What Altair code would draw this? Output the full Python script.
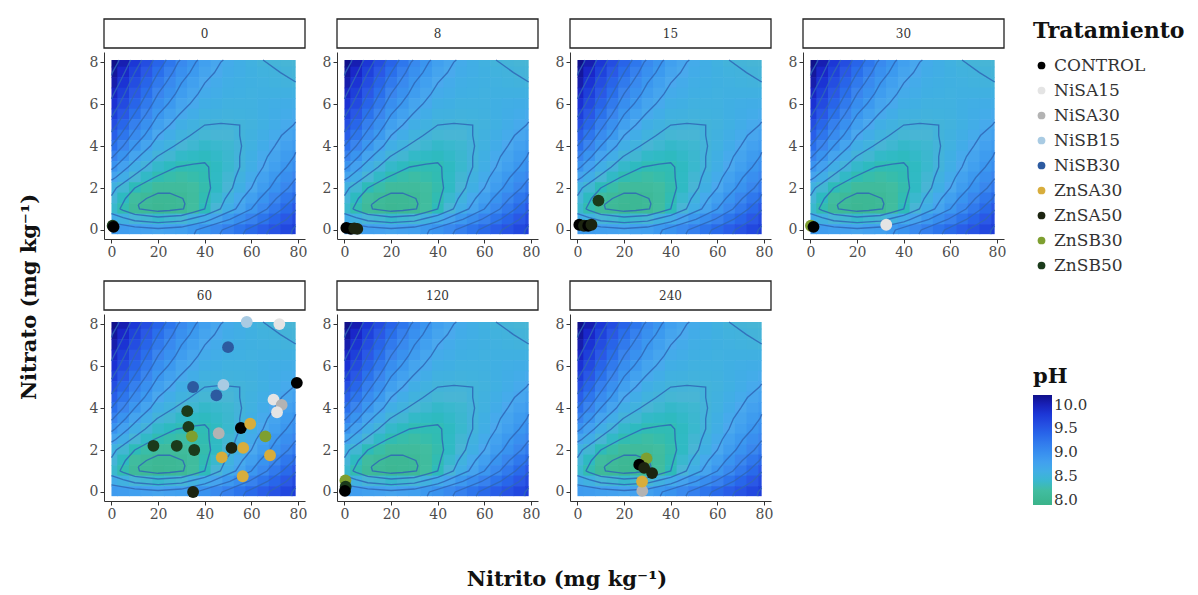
import altair as alt
import pandas as pd

FONT = "DejaVu Serif"

days = [0, 8, 15, 30, 60, 120, 240]
treatments = ["CONTROL", "NiSA15", "NiSA30", "NiSB15", "NiSB30",
              "ZnSA30", "ZnSA50", "ZnSB30", "ZnSB50"]
treatment_colors = ["#000000", "#e4e4e4", "#b3b3b3", "#a9cbe3", "#2c5aa0",
                    "#d8ad3c", "#1c2410", "#7e9f30", "#1b3b1b"]

# fitted pH surface (rows: nitrato from 8 down to 0)
grid_nitrito = [0, 5, 10, 15, 20, 25, 30, 35, 40, 45, 50, 55, 60, 65, 70, 75, 80]
grid_nitrato = [8.0, 7.5, 7.0, 6.5, 6.0, 5.5, 5.0, 4.5, 4.0, 3.5, 3.0, 2.5, 2.0, 1.5, 1.0, 0.5, 0.0]
grid_ph = [
    [10.20, 10.03, 9.80, 9.60, 9.40, 9.23, 9.05, 8.93, 8.80, 8.73, 8.65, 8.60, 8.55, 8.50, 8.48, 8.46, 8.45],
    [10.12, 9.93, 9.70, 9.50, 9.30, 9.14, 8.98, 8.87, 8.75, 8.69, 8.63, 8.60, 8.56, 8.53, 8.51, 8.49, 8.48],
    [10.05, 9.83, 9.60, 9.40, 9.20, 9.05, 8.90, 8.80, 8.70, 8.65, 8.60, 8.58, 8.56, 8.55, 8.53, 8.51, 8.50],
    [9.95, 9.73, 9.50, 9.30, 9.10, 8.97, 8.83, 8.74, 8.65, 8.62, 8.58, 8.57, 8.55, 8.56, 8.56, 8.56, 8.57],
    [9.85, 9.63, 9.40, 9.20, 9.00, 8.88, 8.75, 8.68, 8.60, 8.58, 8.55, 8.55, 8.55, 8.58, 8.60, 8.61, 8.62],
    [9.73, 9.51, 9.28, 9.09, 8.90, 8.79, 8.68, 8.62, 8.55, 8.54, 8.52, 8.53, 8.54, 8.58, 8.61, 8.64, 8.67],
    [9.60, 9.38, 9.15, 8.98, 8.80, 8.70, 8.60, 8.55, 8.50, 8.49, 8.48, 8.50, 8.52, 8.57, 8.62, 8.67, 8.72],
    [9.45, 9.24, 9.03, 8.87, 8.70, 8.62, 8.53, 8.49, 8.44, 8.45, 8.45, 8.50, 8.54, 8.60, 8.66, 8.73, 8.79],
    [9.30, 9.10, 8.90, 8.75, 8.60, 8.53, 8.45, 8.42, 8.38, 8.40, 8.42, 8.49, 8.55, 8.63, 8.70, 8.78, 8.85],
    [9.13, 8.94, 8.75, 8.62, 8.49, 8.43, 8.37, 8.35, 8.33, 8.37, 8.41, 8.50, 8.58, 8.67, 8.75, 8.84, 8.93],
    [8.95, 8.78, 8.60, 8.49, 8.38, 8.33, 8.28, 8.28, 8.28, 8.34, 8.40, 8.50, 8.60, 8.70, 8.80, 8.90, 9.00],
    [8.75, 8.61, 8.45, 8.36, 8.27, 8.24, 8.22, 8.24, 8.27, 8.35, 8.43, 8.54, 8.65, 8.77, 8.88, 8.99, 9.10],
    [8.55, 8.43, 8.30, 8.23, 8.15, 8.15, 8.15, 8.20, 8.25, 8.35, 8.45, 8.58, 8.70, 8.83, 8.95, 9.08, 9.20],
    [8.48, 8.33, 8.18, 8.10, 8.05, 8.05, 8.09, 8.17, 8.27, 8.40, 8.53, 8.67, 8.80, 8.94, 9.08, 9.22, 9.35],
    [8.40, 8.26, 8.12, 8.07, 8.02, 8.05, 8.08, 8.19, 8.30, 8.45, 8.60, 8.75, 8.90, 9.05, 9.20, 9.35, 9.50],
    [8.63, 8.55, 8.46, 8.43, 8.39, 8.42, 8.44, 8.54, 8.63, 8.75, 8.88, 9.00, 9.13, 9.25, 9.38, 9.50, 9.63],
    [8.85, 8.83, 8.80, 8.78, 8.75, 8.78, 8.80, 8.88, 8.95, 9.05, 9.15, 9.25, 9.35, 9.45, 9.55, 9.65, 9.75],
]
grid_x_range = [0, 79]
grid_y_range = [-0.2, 8.1]

# iso-pH lines of that surface (nitrito, nitrato)
contour_levels = ["8.1", "8.3", "8.5", "8.5b", "8.7", "8.7b", "8.9", "8.9b", "9.1", "9.1b",
                  "9.3", "9.3b", "9.5", "9.5b", "9.7", "9.7b", "9.9", "10.1"]
contour_paths = [
    [(11.5, 1.2), (15, 1.5), (20, 1.75), (25, 1.75), (30.6, 1.5), (31.5, 1.25), (30.9, 1.0),
     (25, 0.93), (20, 0.89), (15, 0.96), (12, 1.0), (11.5, 1.2)],
    [(3.6, 1.0), (6, 1.5), (10, 2.0), (18.3, 2.5), (28, 3.0), (35, 3.14), (40, 3.2), (41.7, 3.0),
     (41.9, 2.5), (42.5, 2.0), (41.2, 1.5), (40, 1.0), (35, 0.84), (30, 0.69), (20, 0.62),
     (10, 0.74), (5, 0.93), (3.6, 1.0)],
    [(0, 1.64), (2.1, 2.0), (8.4, 2.5), (14.5, 3.0), (19.6, 3.5), (26.9, 4.0), (33.75, 4.5),
     (40, 5.0), (47, 5.08), (55, 5.0), (55, 4.5), (55.8, 4.0), (55, 3.5), (55, 3.0), (53.2, 2.5),
     (51.9, 2.0), (48.8, 1.5), (46.7, 1.0), (45, 0.92), (40, 0.70), (35, 0.56), (30, 0.42),
     (20, 0.35), (10, 0.44), (5, 0.59), (0, 0.78)],
    [(65, 8.1), (72.5, 7.5), (79, 7.05)],
    [(0, 2.375), (1.8, 2.5), (7.2, 3.0), (11.9, 3.5), (16.7, 4.0), (20, 4.5), (25, 5.0),
     (29.1, 5.5), (33.6, 6.0), (37.2, 6.5), (40, 7.0), (44.2, 7.5), (46.9, 8.0), (48, 8.1)],
    [(0, 0.34), (10, 0.15), (20, 0.07), (30, 0.14), (40, 0.39), (42.9, 0.5), (53.3, 1.0),
     (56.2, 1.5), (60, 2.0), (62.1, 2.5), (65, 3.0), (66.9, 3.5), (70, 4.0), (72.9, 4.5),
     (78, 5.0), (79, 5.15)],
    [(0, 2.875), (1.5, 3.0), (6.1, 3.5), (10, 4.0), (14.1, 4.5), (17.2, 5.0), (20, 5.5),
     (24.2, 6.0), (27.5, 6.5), (30, 7.0), (33.6, 7.5), (36.2, 8.0), (37, 8.1)],
    [(35.5, -0.2), (36.4, 0.0), (50.8, 0.5), (60, 1.0), (63.6, 1.5), (67.9, 2.0), (70.9, 2.5),
     (75, 3.0), (78.3, 3.5), (79, 3.7)],
    [(0, 3.42), (0.8, 3.5), (5, 4.0), (8.3, 4.5), (11.5, 5.0), (14.7, 5.5), (17.5, 6.0),
     (20, 6.5), (23.3, 7.0), (26.25, 7.5), (28.6, 8.0), (29.5, 8.1)],
    [(46.5, -0.2), (47.5, 0.0), (58.8, 0.5), (66.7, 1.0), (70.7, 1.5), (75.8, 2.0), (79, 2.45)],
    [(0, 4.0), (3.6, 4.5), (6.7, 5.0), (9.6, 5.5), (12.5, 6.0), (15, 6.5), (17.5, 7.0),
     (20, 7.5), (22.9, 8.0), (23.5, 8.1)],
    [(56.5, -0.2), (57.5, 0.0), (66.9, 0.5), (73.3, 1.0), (78.1, 1.5), (79, 1.7)],
    [(0, 4.67), (2.3, 5.0), (5.2, 5.5), (7.8, 6.0), (10, 6.5), (12.5, 7.0), (15, 7.5),
     (17.5, 8.0), (18, 8.1)],
    [(66.5, -0.2), (67.5, 0.0), (75, 0.5), (79, 0.95)],
    [(0, 5.38), (0.7, 5.5), (3.4, 6.0), (5.7, 6.5), (7.8, 7.0), (10, 7.5), (12.5, 8.0), (13, 8.1)],
    [(77, -0.2), (77.5, 0.0), (79, 0.2)],
    [(0, 6.25), (1.1, 6.5), (3.4, 7.0), (5.65, 7.5), (7.8, 8.0), (8.3, 8.1)],
    [(0, 7.36), (0.4, 7.5), (2.9, 8.0), (3.2, 8.1)],
]

ph_ticks = [8.0, 8.5, 9.0, 9.5, 10.0]
ph_stops = [7.9, 8.2, 8.45, 8.7, 9.1, 9.5, 9.9, 10.2]
ph_colors = ["#3bb38a", "#41bda0", "#48b5d5", "#4aa8ee", "#3a85ee", "#2a58e6", "#1a2ad0", "#10108a"]

# observed points: day, treatment, nitrito, nitrato
pt_day = (
    [0, 0]
    + [8, 8, 8, 8]
    + [15, 15, 15, 15, 15]
    + [30, 30, 30]
    + [60] * 26
    + [120, 120, 120]
    + [240] * 6
)
pt_trat = (
    ["ZnSB50", "CONTROL"]
    + ["ZnSA50", "CONTROL", "CONTROL", "ZnSA50"]
    + ["ZnSB50", "CONTROL", "ZnSA50", "CONTROL", "ZnSA50"]
    + ["ZnSB30", "NiSA15", "CONTROL"]
    + ["NiSB15", "NiSA15", "NiSB30", "CONTROL", "NiSB15", "NiSB30", "NiSB30",
       "NiSA15", "NiSA30", "NiSA15", "ZnSB50", "ZnSB50", "ZnSB30", "CONTROL",
       "ZnSA30", "NiSA30", "ZnSB30", "ZnSB50", "ZnSB50", "ZnSB50", "ZnSA50",
       "ZnSA30", "ZnSA30", "ZnSA30", "ZnSA30", "ZnSA50"]
    + ["ZnSB30", "ZnSB50", "CONTROL"]
    + ["NiSA30", "ZnSA30", "ZnSB30", "ZnSA50", "CONTROL", "ZnSA50"]
)
pt_nitrito = (
    [0.5, 0.9]
    + [5.5, 0.8, 2.8, 4.2]
    + [9.0, 0.8, 2.8, 4.6, 6.0]
    + [0.2, 32.5, 1.3]
    + [58.0, 72.0, 50.0, 79.5, 48.0, 35.0, 45.0,
       69.5, 73.0, 71.0, 32.5, 33.0, 34.5, 55.5,
       59.5, 46.0, 66.0, 18.0, 28.0, 35.5, 51.5,
       56.5, 47.3, 68.0, 56.3, 35.0]
    + [0.4, 0.5, 0.2]
    + [27.8, 27.7, 29.6, 32.0, 26.5, 28.6]
)
pt_nitrato = (
    [0.2, 0.15]
    + [0.05, 0.1, 0.05, 0.08]
    + [1.4, 0.25, 0.2, 0.2, 0.25]
    + [0.2, 0.25, 0.15]
    + [8.1, 8.0, 6.9, 5.2, 5.1, 5.0, 4.6,
       4.4, 4.15, 3.8, 3.85, 3.1, 2.65, 3.05,
       3.25, 2.8, 2.65, 2.2, 2.2, 2.0, 2.1,
       2.1, 1.65, 1.75, 0.75, 0.0]
    + [0.55, 0.25, 0.05]
    + [0.05, 0.5, 1.6, 0.9, 1.3, 1.15]
)

# ---- tables ----
rows = []
for i, ny in enumerate(grid_nitrato):
    for j, nx in enumerate(grid_nitrito):
        rows.append({
            "x1": max(grid_x_range[0], nx - 2.5), "x2": min(grid_x_range[1], nx + 2.8),
            "y1": max(grid_y_range[0], ny - 0.25), "y2": min(grid_y_range[1], ny + 0.28),
            "pH": grid_ph[i][j],
        })
raster_df = pd.DataFrame(rows)

crow = []
for lev, path in zip(contour_levels, contour_paths):
    for k, (cx, cy) in enumerate(path):
        crow.append({"level": lev, "seq": k, "cx": cx, "cy": cy})
contour_df = pd.DataFrame(crow)

points_df = pd.DataFrame({"day": pt_day, "Tratamiento": pt_trat,
                          "nitrito": pt_nitrito, "nitrato": pt_nitrato})
one_df = pd.DataFrame({"a": [1]})

PW, PH_, SH = 201, 187, 29
xs = alt.Scale(domain=[-3.2, 83], nice=False, zero=False)
ys = alt.Scale(domain=[-0.43, 8.48], nice=False, zero=False)
x_axis = alt.Axis(values=[0, 20, 40, 60, 80], title=None)
y_axis = alt.Axis(values=[0, 2, 4, 6, 8], title=None)
ph_scale = alt.Scale(type="linear", domain=ph_stops, range=ph_colors, clamp=True)
trat_scale = alt.Scale(domain=treatments, range=treatment_colors)


def panel(day):
    raster = alt.Chart(raster_df).mark_rect(strokeWidth=0).encode(
        x=alt.X("x1:Q", scale=xs, axis=x_axis),
        x2="x2:Q",
        y=alt.Y("y1:Q", scale=ys, axis=y_axis),
        y2="y2:Q",
        color=alt.Color("pH:Q", scale=ph_scale,
                        legend=alt.Legend(title="pH", type="gradient", orient="none",
                                          legendX=1020, legendY=347, direction="vertical",
                                          values=ph_ticks, format=".1f",
                                          gradientLength=110, gradientThickness=19,
                                          labelFontSize=15, titleFontSize=21,
                                          titlePadding=8)),
    )
    lines = alt.Chart(contour_df).mark_line(
        color="#2f66b6", strokeWidth=1.35, opacity=0.85).encode(
        x=alt.X("cx:Q", scale=xs, axis=x_axis),
        y=alt.Y("cy:Q", scale=ys, axis=y_axis),
        detail="level:N",
        order="seq:Q",
    )
    pts = alt.Chart(points_df).transform_filter(alt.datum.day == day).mark_circle(
        size=140, opacity=1).encode(
        x=alt.X("nitrito:Q", scale=xs, axis=x_axis),
        y=alt.Y("nitrato:Q", scale=ys, axis=y_axis),
        fill=alt.Fill("Tratamiento:N", scale=trat_scale,
                      legend=alt.Legend(title="Tratamiento", orient="none",
                                        legendX=1020, legendY=2, symbolSize=60,
                                        labelFontSize=17, titleFontSize=22,
                                        rowPadding=7, titlePadding=14)),
    )
    plot = alt.layer(raster, lines, pts).properties(width=PW, height=PH_)
    box = alt.Chart(one_df).mark_rect(fill="white", stroke="#222222", strokeWidth=1.3).encode(
        x=alt.value(0), x2=alt.value(PW), y=alt.value(0), y2=alt.value(SH))
    label = alt.Chart(one_df).mark_text(font=FONT, fontSize=12, color="#333333",
                                        align="center", baseline="middle").encode(
        x=alt.value(PW / 2), y=alt.value(SH / 2), text=alt.value(str(day)))
    strip = alt.layer(box, label).properties(width=PW, height=SH)
    return alt.vconcat(strip, plot, spacing=3)


row1 = alt.hconcat(*[panel(d) for d in days[:4]], spacing=15)
row2 = alt.hconcat(*[panel(d) for d in days[4:]], spacing=15)
rows_block = alt.vconcat(row1, row2, spacing=21)

xtitle = alt.Chart(one_df).mark_text(font=FONT, fontSize=21, fontWeight="bold",
                                     align="center", baseline="middle", color="#111111").encode(
    x=alt.value(463), y=alt.value(55), text=alt.value("Nitrito (mg kg⁻¹)")
).properties(width=900, height=62)

grid = alt.vconcat(rows_block, xtitle, spacing=4)

ytitle = alt.Chart(one_df).mark_text(font=FONT, fontSize=21, fontWeight="bold", angle=270,
                                     align="center", baseline="middle", color="#111111").encode(
    x=alt.value(17), y=alt.value(278), text=alt.value("Nitrato (mg kg⁻¹)")
).properties(width=40, height=480)

chart = alt.hconcat(ytitle, grid, spacing=36).properties(
    padding={"left": 5, "top": 10, "right": 5, "bottom": 0}
).configure_view(stroke=None).configure_axis(
    grid=False, domainColor="#333333", domainWidth=1, tickColor="#333333", tickSize=4,
    labelFont=FONT, labelFontSize=14, labelColor="#4d4d4d", labelPadding=2,
).configure_legend(
    titleFont=FONT, labelFont=FONT, titleColor="#111111", labelColor="#333333",
    titleFontWeight="bold",
)

chart.save("out.html", embed_options={"renderer": "svg", "actions": False})
